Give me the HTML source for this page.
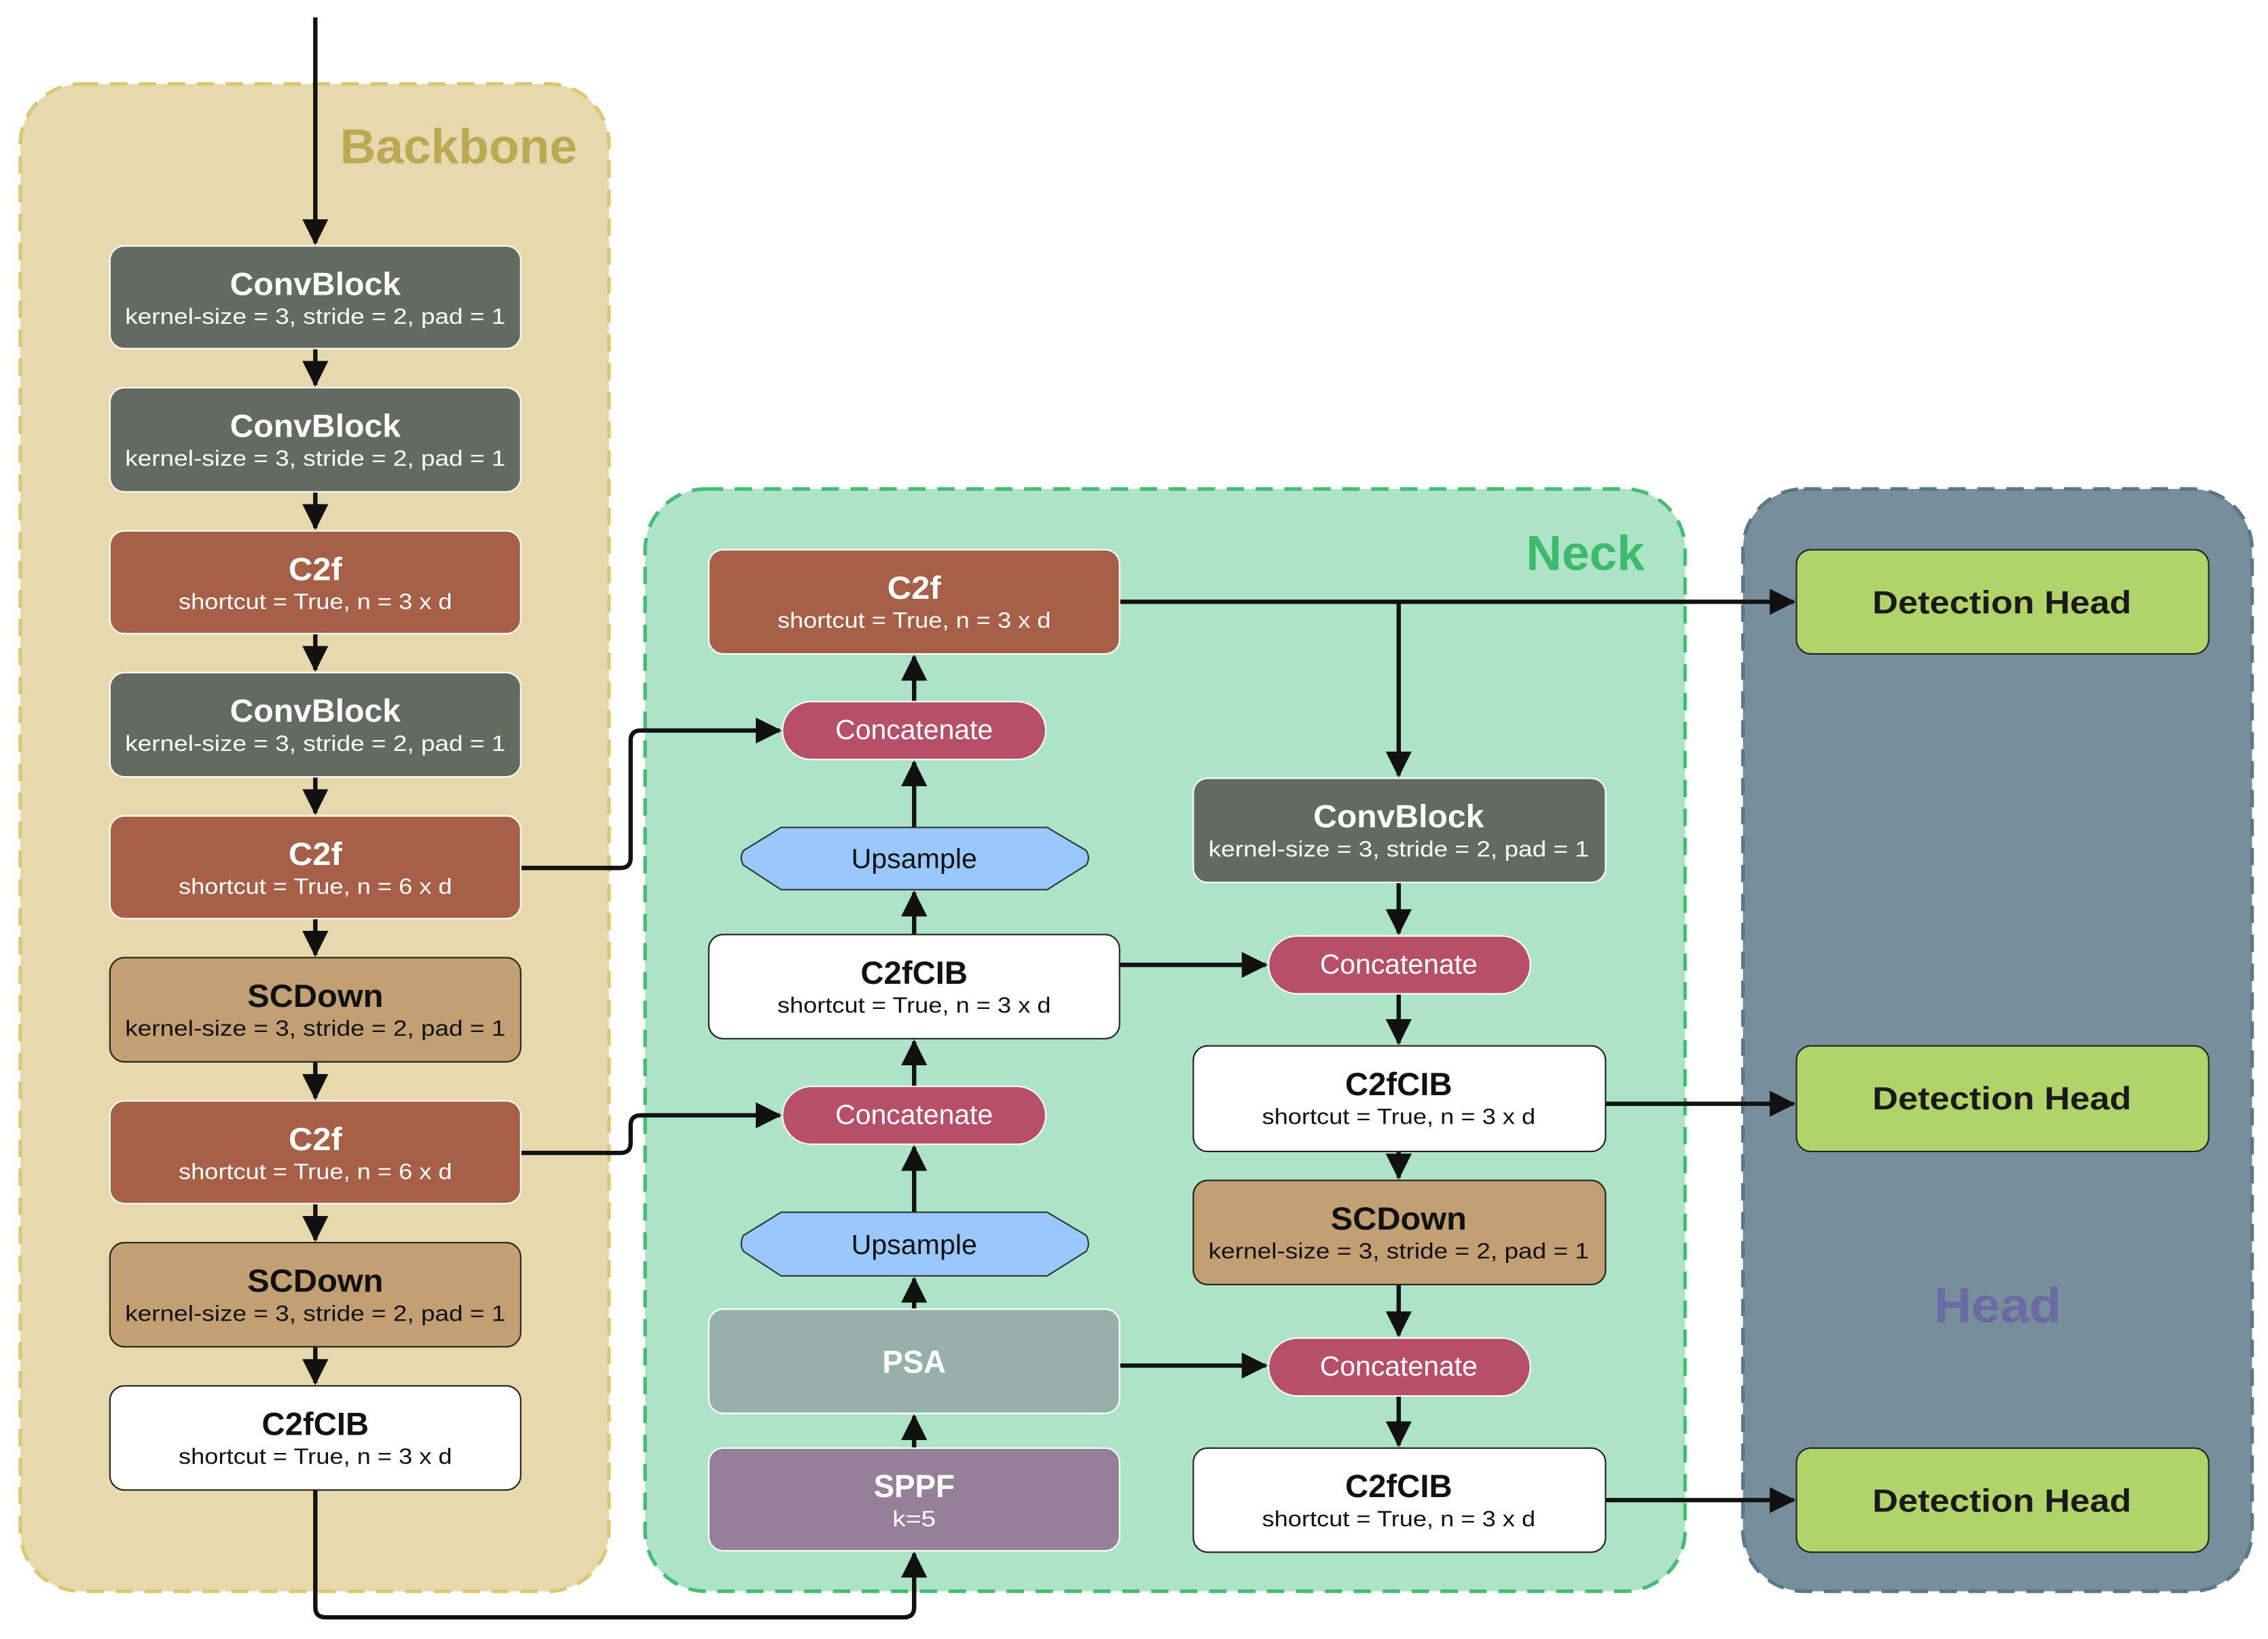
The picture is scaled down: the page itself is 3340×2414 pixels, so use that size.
<!DOCTYPE html>
<html><head><meta charset="utf-8"><style>
html,body{margin:0;padding:0;background:#fff;}
svg{display:block;}
text{font-family:"Liberation Sans",sans-serif;text-anchor:middle;}
.t{font-weight:bold;font-size:22px;}
.s{font-size:15px;}
</style></head><body>
<svg width="3340" height="2414" viewBox="0 0 1568 1133" preserveAspectRatio="none" xmlns="http://www.w3.org/2000/svg">
<defs>
<marker id="a" markerWidth="6" markerHeight="6" refX="5.5" refY="3" orient="auto" markerUnits="strokeWidth">
<path d="M0,0 L6,3 L0,6 Z" fill="#111"/>
</marker>
</defs>
<!-- panels -->
<rect x="14" y="58" width="407" height="1042" rx="42" fill="#e7d8ad" stroke="#dac872" stroke-width="2.5" stroke-dasharray="12,8"/>
<rect x="446" y="338" width="719" height="762" rx="42" fill="#ade3c6" stroke="#46bd72" stroke-width="2.5" stroke-dasharray="12,8"/>
<rect x="1205" y="338" width="352" height="762" rx="42" fill="#778e9c" stroke="#5e7786" stroke-width="2.5" stroke-dasharray="12,8"/>
<text x="317" y="113" font-weight="bold" font-size="34" fill="#bba954" textLength="164" lengthAdjust="spacingAndGlyphs">Backbone</text>
<text x="1096" y="394" font-weight="bold" font-size="34" fill="#3dbb6d" textLength="82" lengthAdjust="spacingAndGlyphs">Neck</text>
<text x="1381" y="914" font-weight="bold" font-size="34" fill="#6b6aa3" textLength="88" lengthAdjust="spacingAndGlyphs">Head</text>

<!-- connectors -->
<g stroke="#111" stroke-width="3" fill="none">
<line x1="218" y1="12" x2="218" y2="168" marker-end="url(#a)"/>
<line x1="218" y1="241" x2="218" y2="266" marker-end="url(#a)"/>
<line x1="218" y1="340" x2="218" y2="365" marker-end="url(#a)"/>
<line x1="218" y1="438" x2="218" y2="463" marker-end="url(#a)"/>
<line x1="218" y1="537" x2="218" y2="562" marker-end="url(#a)"/>
<line x1="218" y1="635" x2="218" y2="660" marker-end="url(#a)"/>
<line x1="218" y1="734" x2="218" y2="759" marker-end="url(#a)"/>
<line x1="218" y1="832" x2="218" y2="857" marker-end="url(#a)"/>
<line x1="218" y1="931" x2="218" y2="956" marker-end="url(#a)"/>
<path d="M218,1030 V1111 Q218,1118 225,1118 H625 Q632,1118 632,1111 V1074" marker-end="url(#a)"/>
<path d="M360,600 H429 Q436,600 436,593 V512 Q436,505 443,505 H539" marker-end="url(#a)"/>
<path d="M360,797 H429 Q436,797 436,790 V778 Q436,771 443,771 H539" marker-end="url(#a)"/>
<line x1="632" y1="1001" x2="632" y2="979" marker-end="url(#a)"/>
<line x1="632" y1="905" x2="632" y2="884" marker-end="url(#a)"/>
<line x1="632" y1="838" x2="632" y2="793" marker-end="url(#a)"/>
<line x1="632" y1="751" x2="632" y2="720" marker-end="url(#a)"/>
<line x1="632" y1="646" x2="632" y2="617" marker-end="url(#a)"/>
<line x1="632" y1="572" x2="632" y2="527" marker-end="url(#a)"/>
<line x1="632" y1="485" x2="632" y2="454" marker-end="url(#a)"/>
<line x1="774" y1="416" x2="1240" y2="416" marker-end="url(#a)"/>
<line x1="967" y1="416" x2="967" y2="536" marker-end="url(#a)"/>
<line x1="967" y1="610" x2="967" y2="645" marker-end="url(#a)"/>
<line x1="774" y1="667" x2="875" y2="667" marker-end="url(#a)"/>
<line x1="967" y1="687" x2="967" y2="721" marker-end="url(#a)"/>
<line x1="967" y1="796" x2="967" y2="814" marker-end="url(#a)"/>
<line x1="967" y1="888" x2="967" y2="923" marker-end="url(#a)"/>
<line x1="774" y1="944" x2="875" y2="944" marker-end="url(#a)"/>
<line x1="967" y1="965" x2="967" y2="999" marker-end="url(#a)"/>
<line x1="1110" y1="763" x2="1240" y2="763" marker-end="url(#a)"/>
<line x1="1110" y1="1037" x2="1240" y2="1037" marker-end="url(#a)"/>
</g>

<!-- backbone blocks -->
<g>
<rect x="76" y="170" width="284" height="71" rx="10" fill="#636a60" stroke="#fff" stroke-width="1"/>
<text class="t" x="218" y="204" fill="#fff" textLength="118" lengthAdjust="spacingAndGlyphs">ConvBlock</text>
<text class="s" x="218" y="224" fill="#fff" textLength="263" lengthAdjust="spacingAndGlyphs">kernel-size = 3, stride = 2, pad = 1</text>

<rect x="76" y="268" width="284" height="72" rx="10" fill="#636a60" stroke="#fff" stroke-width="1"/>
<text class="t" x="218" y="302" fill="#fff" textLength="118" lengthAdjust="spacingAndGlyphs">ConvBlock</text>
<text class="s" x="218" y="322" fill="#fff" textLength="263" lengthAdjust="spacingAndGlyphs">kernel-size = 3, stride = 2, pad = 1</text>

<rect x="76" y="367" width="284" height="71" rx="10" fill="#a85f48" stroke="#fff" stroke-width="1"/>
<text class="t" x="218" y="401" fill="#fff" textLength="37" lengthAdjust="spacingAndGlyphs">C2f</text>
<text class="s" x="218" y="421" fill="#fff" textLength="189" lengthAdjust="spacingAndGlyphs">shortcut = True, n = 3 x d</text>

<rect x="76" y="465" width="284" height="72" rx="10" fill="#636a60" stroke="#fff" stroke-width="1"/>
<text class="t" x="218" y="499" fill="#fff" textLength="118" lengthAdjust="spacingAndGlyphs">ConvBlock</text>
<text class="s" x="218" y="519" fill="#fff" textLength="263" lengthAdjust="spacingAndGlyphs">kernel-size = 3, stride = 2, pad = 1</text>

<rect x="76" y="564" width="284" height="71" rx="10" fill="#a85f48" stroke="#fff" stroke-width="1"/>
<text class="t" x="218" y="598" fill="#fff" textLength="37" lengthAdjust="spacingAndGlyphs">C2f</text>
<text class="s" x="218" y="618" fill="#fff" textLength="189" lengthAdjust="spacingAndGlyphs">shortcut = True, n = 6 x d</text>

<rect x="76" y="662" width="284" height="72" rx="10" fill="#c2a073" stroke="#222" stroke-width="1"/>
<text class="t" x="218" y="696" fill="#111" textLength="94" lengthAdjust="spacingAndGlyphs">SCDown</text>
<text class="s" x="218" y="716" fill="#111" textLength="263" lengthAdjust="spacingAndGlyphs">kernel-size = 3, stride = 2, pad = 1</text>

<rect x="76" y="761" width="284" height="71" rx="10" fill="#a85f48" stroke="#fff" stroke-width="1"/>
<text class="t" x="218" y="795" fill="#fff" textLength="37" lengthAdjust="spacingAndGlyphs">C2f</text>
<text class="s" x="218" y="815" fill="#fff" textLength="189" lengthAdjust="spacingAndGlyphs">shortcut = True, n = 6 x d</text>

<rect x="76" y="859" width="284" height="72" rx="10" fill="#c2a073" stroke="#222" stroke-width="1"/>
<text class="t" x="218" y="893" fill="#111" textLength="94" lengthAdjust="spacingAndGlyphs">SCDown</text>
<text class="s" x="218" y="913" fill="#111" textLength="263" lengthAdjust="spacingAndGlyphs">kernel-size = 3, stride = 2, pad = 1</text>

<rect x="76" y="958" width="284" height="72" rx="10" fill="#fff" stroke="#222" stroke-width="1"/>
<text class="t" x="218" y="992" fill="#111" textLength="74" lengthAdjust="spacingAndGlyphs">C2fCIB</text>
<text class="s" x="218" y="1012" fill="#111" textLength="189" lengthAdjust="spacingAndGlyphs">shortcut = True, n = 3 x d</text>
</g>

<!-- neck left column -->
<g>
<rect x="490" y="380" width="284" height="72" rx="10" fill="#a85f48" stroke="#fff" stroke-width="1"/>
<text class="t" x="632" y="414" fill="#fff" textLength="37" lengthAdjust="spacingAndGlyphs">C2f</text>
<text class="s" x="632" y="434" fill="#fff" textLength="189" lengthAdjust="spacingAndGlyphs">shortcut = True, n = 3 x d</text>

<rect x="541" y="485" width="182" height="40" rx="20" fill="#b74f69" stroke="#fff" stroke-width="1"/>
<text x="632" y="511" font-size="19" fill="#fff" textLength="109" lengthAdjust="spacingAndGlyphs">Concatenate</text>

<path d="M540,572 H724 L751,588 Q754,593 751,598 L724,615 H540 L514,598 Q511,593 514,588 Z" fill="#99c8ff" stroke="#333" stroke-width="1"/>
<text x="632" y="600" font-size="19" fill="#111" textLength="87" lengthAdjust="spacingAndGlyphs">Upsample</text>

<rect x="490" y="646" width="284" height="72" rx="10" fill="#fff" stroke="#222" stroke-width="1"/>
<text class="t" x="632" y="680" fill="#111" textLength="74" lengthAdjust="spacingAndGlyphs">C2fCIB</text>
<text class="s" x="632" y="700" fill="#111" textLength="189" lengthAdjust="spacingAndGlyphs">shortcut = True, n = 3 x d</text>

<rect x="541" y="751" width="182" height="40" rx="20" fill="#b74f69" stroke="#fff" stroke-width="1"/>
<text x="632" y="777" font-size="19" fill="#fff" textLength="109" lengthAdjust="spacingAndGlyphs">Concatenate</text>

<path d="M540,838 H724 L751,854 Q754,860 751,865 L724,882 H540 L514,865 Q511,860 514,854 Z" fill="#99c8ff" stroke="#333" stroke-width="1"/>
<text x="632" y="867" font-size="19" fill="#111" textLength="87" lengthAdjust="spacingAndGlyphs">Upsample</text>

<rect x="490" y="905" width="284" height="72" rx="10" fill="#97b0aa" stroke="#fff" stroke-width="1"/>
<text class="t" x="632" y="949" fill="#fff" textLength="44" lengthAdjust="spacingAndGlyphs">PSA</text>

<rect x="490" y="1001" width="284" height="71" rx="10" fill="#957f99" stroke="#fff" stroke-width="1"/>
<text class="t" x="632" y="1035" fill="#fff" textLength="56" lengthAdjust="spacingAndGlyphs">SPPF</text>
<text class="s" x="632" y="1055" fill="#fff" textLength="30" lengthAdjust="spacingAndGlyphs">k=5</text>
</g>

<!-- neck right column -->
<g>
<rect x="825" y="538" width="285" height="72" rx="10" fill="#636a60" stroke="#fff" stroke-width="1"/>
<text class="t" x="967" y="572" fill="#fff" textLength="118" lengthAdjust="spacingAndGlyphs">ConvBlock</text>
<text class="s" x="967" y="592" fill="#fff" textLength="263" lengthAdjust="spacingAndGlyphs">kernel-size = 3, stride = 2, pad = 1</text>

<rect x="877" y="647" width="181" height="40" rx="20" fill="#b74f69" stroke="#fff" stroke-width="1"/>
<text x="967" y="673" font-size="19" fill="#fff" textLength="109" lengthAdjust="spacingAndGlyphs">Concatenate</text>

<rect x="825" y="723" width="285" height="73" rx="10" fill="#fff" stroke="#222" stroke-width="1"/>
<text class="t" x="967" y="757" fill="#111" textLength="74" lengthAdjust="spacingAndGlyphs">C2fCIB</text>
<text class="s" x="967" y="777" fill="#111" textLength="189" lengthAdjust="spacingAndGlyphs">shortcut = True, n = 3 x d</text>

<rect x="825" y="816" width="285" height="72" rx="10" fill="#c2a073" stroke="#222" stroke-width="1"/>
<text class="t" x="967" y="850" fill="#111" textLength="94" lengthAdjust="spacingAndGlyphs">SCDown</text>
<text class="s" x="967" y="870" fill="#111" textLength="263" lengthAdjust="spacingAndGlyphs">kernel-size = 3, stride = 2, pad = 1</text>

<rect x="877" y="925" width="181" height="40" rx="20" fill="#b74f69" stroke="#fff" stroke-width="1"/>
<text x="967" y="951" font-size="19" fill="#fff" textLength="109" lengthAdjust="spacingAndGlyphs">Concatenate</text>

<rect x="825" y="1001" width="285" height="72" rx="10" fill="#fff" stroke="#222" stroke-width="1"/>
<text class="t" x="967" y="1035" fill="#111" textLength="74" lengthAdjust="spacingAndGlyphs">C2fCIB</text>
<text class="s" x="967" y="1055" fill="#111" textLength="189" lengthAdjust="spacingAndGlyphs">shortcut = True, n = 3 x d</text>
</g>

<!-- head -->
<g>
<rect x="1242" y="380" width="285" height="72" rx="10" fill="#b1d46a" stroke="#222" stroke-width="1"/>
<text class="t" x="1384" y="424" fill="#1a1a1a" textLength="179" lengthAdjust="spacingAndGlyphs">Detection Head</text>
<rect x="1242" y="723" width="285" height="73" rx="10" fill="#b1d46a" stroke="#222" stroke-width="1"/>
<text class="t" x="1384" y="767" fill="#1a1a1a" textLength="179" lengthAdjust="spacingAndGlyphs">Detection Head</text>
<rect x="1242" y="1001" width="285" height="72" rx="10" fill="#b1d46a" stroke="#222" stroke-width="1"/>
<text class="t" x="1384" y="1045" fill="#1a1a1a" textLength="179" lengthAdjust="spacingAndGlyphs">Detection Head</text>
</g>
</svg>
</body></html>
